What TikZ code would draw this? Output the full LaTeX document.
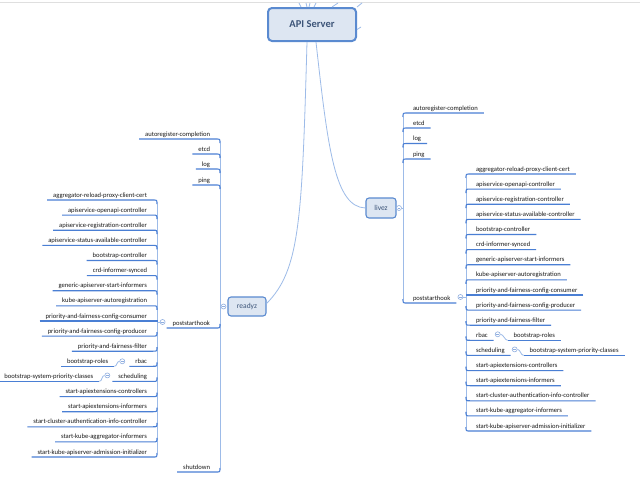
\documentclass[tikz,border=0pt]{standalone}
\usepackage{fontspec}
\setmainfont{Carlito}
\usetikzlibrary{calc}
\definecolor{ul}{HTML}{4A7FD4}
\definecolor{tr}{HTML}{9DBBE8}
\definecolor{boxfill}{HTML}{DDE6F2}
\definecolor{boxdraw}{HTML}{5A8AD0}
\definecolor{boxtext}{HTML}{3C5478}
\definecolor{circc}{HTML}{8FAEE0}
\begin{document}
\begin{tikzpicture}[x=1pt,y=-1pt,
  lbl/.style={font=\fontsize{6.6}{7.5}\selectfont, inner xsep=5.8pt, inner ysep=1.5pt, text height=4.2pt, text depth=1.3pt, text=black!90},
  uline/.style={draw=ul, line width=1.1pt},
  trunk/.style={draw=tr, line width=0.8pt},
  circ/.style={circle, draw=circc, fill=white, minimum size=5pt, inner sep=0pt, line width=0.6pt,
    path picture={\draw[circc, line width=0.5pt] ([xshift=-1.3pt]path picture bounding box.center) -- ([xshift=1.3pt]path picture bounding box.center);}},
  topicbox/.style={draw=boxdraw, fill=boxfill, rounded corners=3pt, line width=1.1pt, text=boxtext, inner sep=0pt},
]
\useasboundingbox (0,0) rectangle (640,485);
\fill[white] (0,0) rectangle (640,485);
\draw[gray!25, line width=1pt] (0,2.5) -- (640,2.5);

% central topic
\node[topicbox, line width=2pt, rounded corners=4pt, minimum width=88pt, minimum height=33pt, font=\bfseries\fontsize{10.5}{12}\selectfont] (api) at (312,24.5) {API Server};

% off-frame connectors at top
\coordinate (t1) at (299,3);
\coordinate (t2) at (306,3);
\coordinate (t3) at (310,3);
\coordinate (t4) at (316,3);
\coordinate (t5) at (338,3);
\coordinate (t6) at (362,3);
\coordinate (t7) at (361,27);
\draw[trunk] ([xshift=-11pt]api.north) -- (t1);
\draw[trunk] ([xshift=-5pt]api.north) -- (t2);
\draw[trunk] ([xshift=-3pt]api.north) -- (t3);
\draw[trunk] ([xshift=2pt]api.north) -- (t4);
\draw[trunk] ([xshift=20pt]api.north) -- (t5);
\draw[trunk] (api.north east) -- (t6);
\draw[trunk] ([yshift=-5pt]api.east) -- (t7);

% main topics
\node[topicbox, minimum width=38pt, minimum height=19pt, font=\fontsize{7.5}{9}\selectfont] (readyz) at (247,306.5) {readyz};
\node[topicbox, minimum width=30pt, minimum height=20pt, font=\fontsize{7.5}{9}\selectfont] (livez) at (381,208) {livez};

\draw[trunk] ([xshift=-5pt]api.south) .. controls (302,220) and (300,270) .. ([yshift=3pt]readyz.east);
\draw[trunk] ([xshift=4pt]api.south) .. controls (328,150) and (335,207) .. (livez.west);

% ---------------- readyz (left) ----------------
\node[circ] (rc) at (223.5,306.5) {};
\draw[trunk] (rc.west) -- (220,306.5);
\draw[trunk] (220,143) -- (220,468);
\foreach \y/\s/\t [count=\i] in {139/1/autoregister-completion, 154/1/etcd, 169/1/log, 185/1/ping, 328/-1/poststarthook, 472/-1/shutdown}{
  \node[lbl, anchor=south east] (ra\i) at (216,\y) {\t};
  \draw[uline] (ra\i.south west) -- (216,\y) .. controls (220,\y) .. (220,\y+4*\s);
}
% poststarthook children (left)
\node[circ] (rpc) at ($(ra5.south west)+(-4,-6)$) {};
\draw[trunk] (rpc.west) -- (157,322);
\draw[trunk] (157,204) -- (157,453);
\foreach \y/\s/\t [count=\i] in {
  200/1/aggregator-reload-proxy-client-cert,
  215.1/1/apiservice-openapi-controller,
  230.2/1/apiservice-registration-controller,
  245.4/1/apiservice-status-available-controller,
  260.5/1/bootstrap-controller,
  275.6/1/crd-informer-synced,
  290.7/1/generic-apiserver-start-informers,
  305.8/1/kube-apiserver-autoregistration,
  321/0/priority-and-fairness-config-consumer,
  336.1/-1/priority-and-fairness-config-producer,
  351.2/-1/priority-and-fairness-filter,
  366.3/-1/rbac,
  381.4/-1/scheduling,
  396.6/-1/start-apiextensions-controllers,
  411.7/-1/start-apiextensions-informers,
  426.8/-1/start-cluster-authentication-info-controller,
  441.9/-1/start-kube-aggregator-informers,
  457/-1/start-kube-apiserver-admission-initializer}{
  \node[lbl, anchor=south east] (lp\i) at (153,\y) {\t};
  \draw[uline] (lp\i.south west) -- (153,\y) .. controls (157,\y) .. (157,\y+4*\s);
}
% rbac -> bootstrap-roles
\node[circ] (lrc) at ($(lp12.south west)+(-7,-5)$) {};
\node[lbl, anchor=south east] (lbr) at ($(lrc)+(-8,5)$) {bootstrap-roles};
\draw[uline] (lbr.south west) -- (lbr.south east);
\draw[trunk] (lrc.west) .. controls +(-3,0) and +(3,0) .. (lbr.south east);
% scheduling -> bootstrap-system-priority-classes
\node[circ] (lsc) at ($(lp13.south west)+(-5,-6)$) {};
\node[lbl, anchor=south east] (lbs) at ($(lsc)+(-8,6)$) {bootstrap-system-priority-classes};
\draw[uline] (lbs.south west) -- (lbs.south east);
\draw[trunk] (lsc.west) .. controls +(-3,0) and +(3,0) .. (lbs.south east);

% ---------------- livez (right) ----------------
\node[circ] (lc) at (399,208) {};
\draw[trunk] (lc.east) -- (403,208);
\draw[trunk] (403,117) -- (403,299);
\foreach \y/\s/\t [count=\i] in {113/1/autoregister-completion, 128/1/etcd, 143.5/1/log, 159/1/ping, 303/-1/poststarthook}{
  \node[lbl, anchor=south west] (la\i) at (407,\y) {\t};
  \draw[uline] (la\i.south east) -- (407,\y) .. controls (403,\y) .. (403,\y+4*\s);
}
% poststarthook children (right)
\node[circ] (lpc) at ($(la5.south east)+(4,-6)$) {};
\draw[trunk] (lpc.east) -- (466,297);
\draw[trunk] (466,178) -- (466,427);
\foreach \y/\s/\t [count=\i] in {
  174/1/aggregator-reload-proxy-client-cert,
  189.1/1/apiservice-openapi-controller,
  204.2/1/apiservice-registration-controller,
  219.4/1/apiservice-status-available-controller,
  234.5/1/bootstrap-controller,
  249.6/1/crd-informer-synced,
  264.7/1/generic-apiserver-start-informers,
  279.8/1/kube-apiserver-autoregistration,
  295/0/priority-and-fairness-config-consumer,
  310.1/-1/priority-and-fairness-config-producer,
  325.2/-1/priority-and-fairness-filter,
  340.3/-1/rbac,
  355.4/-1/scheduling,
  370.6/-1/start-apiextensions-controllers,
  385.7/-1/start-apiextensions-informers,
  400.8/-1/start-cluster-authentication-info-controller,
  415.9/-1/start-kube-aggregator-informers,
  431/-1/start-kube-apiserver-admission-initializer}{
  \node[lbl, anchor=south west] (rp\i) at (470,\y) {\t};
  \draw[uline] (rp\i.south east) -- (470,\y) .. controls (466,\y) .. (466,\y+4*\s);
}
% rbac -> bootstrap-roles
\node[circ] (rrc) at ($(rp12.south east)+(4,-6)$) {};
\node[lbl, anchor=south west] (rbr) at ($(rrc)+(10,6)$) {bootstrap-roles};
\draw[uline] (rbr.south west) -- (rbr.south east);
\draw[trunk] (rrc.east) .. controls +(3,0) and +(-3,0) .. (rbr.south west);
% scheduling -> bootstrap-system-priority-classes
\node[circ] (rsc) at ($(rp13.south east)+(4,-6)$) {};
\node[lbl, anchor=south west] (rbs) at ($(rsc)+(9,6)$) {bootstrap-system-priority-classes};
\draw[uline] (rbs.south west) -- (rbs.south east);
\draw[trunk] (rsc.east) .. controls +(3,0) and +(-3,0) .. (rbs.south west);
\end{tikzpicture}
\end{document}
